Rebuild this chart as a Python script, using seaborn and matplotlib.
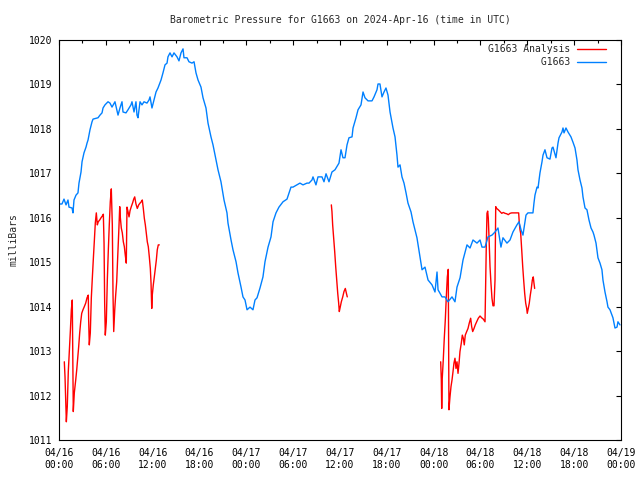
import pandas as pd
import matplotlib
matplotlib.use("Agg")
import matplotlib.pyplot as plt
import matplotlib.dates as mdates
import seaborn as sns

# hours after 2024-04-16 00:00 UTC, pressure in mb
start = pd.Timestamp("2024-04-16 00:00")

blue_hours = [0.00, 0.38, 0.64, 0.90, 1.15, 1.28, 1.67, 1.79, 1.92, 2.18,
              2.43, 2.56, 2.82, 2.95, 3.20, 3.46, 3.59, 3.72, 3.97, 4.23,
              4.36, 5.00, 5.25, 5.51, 5.64, 5.89, 6.28, 6.53, 6.79, 7.17,
              7.56, 7.81, 8.07, 8.20, 8.58, 8.84, 9.22, 9.35, 9.61, 9.86,
              9.99, 10.12, 10.38, 10.63, 10.89, 11.27, 11.53, 11.66, 11.91, 12.17,
              12.43, 12.68, 13.07, 13.32, 13.58, 13.84, 13.96, 14.22, 14.48, 14.73,
              15.12, 15.37, 15.63, 15.89, 16.01, 16.40, 16.65, 17.04, 17.30, 17.55,
              17.81, 18.19, 18.45, 18.83, 19.09, 19.47, 19.73, 20.11, 20.37, 20.75,
              21.14, 21.52, 21.65, 22.04, 22.29, 22.68, 22.93, 23.32, 23.57, 23.83,
              24.09, 24.47, 24.85, 25.11, 25.37, 25.75, 26.13, 26.39, 26.78, 27.16,
              27.42, 27.80, 28.18, 28.70, 29.21, 29.47, 29.72, 29.98, 30.49, 30.87,
              31.26, 31.77, 32.03, 32.41, 32.54, 32.92, 33.18, 33.69, 33.95, 34.21,
              34.59, 34.97, 35.36, 35.74, 35.87, 36.13, 36.38, 36.64, 36.90, 37.15,
              37.54, 37.67, 38.05, 38.31, 38.69, 38.95, 39.20, 39.59, 40.10, 40.36,
              40.74, 40.87, 41.12, 41.38, 41.64, 41.89, 42.15, 42.41, 42.79, 43.05,
              43.30, 43.43, 43.69, 43.94, 44.20, 44.46, 44.71, 45.10, 45.35, 45.61,
              45.86, 46.25, 46.51, 46.89, 47.28, 47.79, 48.17, 48.43, 48.56, 49.07,
              49.45, 49.84, 50.35, 50.73, 50.99, 51.38, 51.76, 52.27, 52.66, 53.04,
              53.55, 53.94, 54.19, 54.58, 54.96, 55.47, 55.86, 56.24, 56.62, 56.88,
              57.39, 57.78, 58.16, 58.67, 58.93, 59.19, 59.44, 59.83, 60.08, 60.72,
              60.85, 60.98, 61.24, 61.37, 61.62, 61.88, 62.01, 62.26, 62.52, 62.90,
              63.16, 63.29, 63.67, 63.93, 64.06, 64.44, 64.57, 64.70, 64.95, 65.21,
              65.59, 65.85, 66.11, 66.36, 66.49, 66.75, 67.00, 67.13, 67.39, 67.64,
              67.90, 68.16, 68.41, 68.54, 68.80, 69.05, 69.31, 69.56, 69.69, 69.95,
              70.21, 70.33, 70.59, 70.85, 70.97, 71.23, 71.49, 71.61, 71.87]
blue_mb = [1016.31, 1016.31, 1016.42, 1016.29, 1016.40, 1016.24, 1016.22, 1016.11, 1016.40, 1016.51,
           1016.56, 1016.78, 1017.03, 1017.26, 1017.46, 1017.59, 1017.68, 1017.75, 1017.98, 1018.16,
           1018.22, 1018.25, 1018.31, 1018.36, 1018.47, 1018.54, 1018.61, 1018.58, 1018.49, 1018.61,
           1018.31, 1018.47, 1018.61, 1018.38, 1018.36, 1018.43, 1018.54, 1018.61, 1018.38, 1018.61,
           1018.31, 1018.25, 1018.61, 1018.54, 1018.61, 1018.58, 1018.65, 1018.72, 1018.47, 1018.65,
           1018.83, 1018.92, 1019.10, 1019.26, 1019.44, 1019.48, 1019.62, 1019.71, 1019.62, 1019.71,
           1019.62, 1019.53, 1019.71, 1019.80, 1019.60, 1019.60, 1019.51, 1019.48, 1019.51, 1019.26,
           1019.10, 1018.94, 1018.70, 1018.47, 1018.13, 1017.82, 1017.64, 1017.30, 1017.08, 1016.81,
           1016.40, 1016.11, 1015.88, 1015.50, 1015.28, 1015.01, 1014.76, 1014.44, 1014.22, 1014.15,
           1013.93, 1013.99, 1013.93, 1014.15, 1014.20, 1014.42, 1014.67, 1015.01, 1015.34, 1015.57,
           1015.91, 1016.11, 1016.24, 1016.36, 1016.42, 1016.56, 1016.69, 1016.69, 1016.74, 1016.78,
           1016.74, 1016.78, 1016.78, 1016.85, 1016.92, 1016.74, 1016.92, 1016.92, 1016.81, 1016.99,
           1016.81, 1017.03, 1017.08, 1017.19, 1017.23, 1017.53, 1017.35, 1017.35, 1017.64, 1017.80,
           1017.82, 1018.02, 1018.25, 1018.43, 1018.54, 1018.83, 1018.70, 1018.63, 1018.63, 1018.72,
           1018.88, 1019.01, 1019.01, 1018.72, 1018.83, 1018.92, 1018.76, 1018.38, 1018.02, 1017.82,
           1017.41, 1017.14, 1017.19, 1016.92, 1016.78, 1016.56, 1016.33, 1016.13, 1015.91, 1015.73,
           1015.55, 1015.12, 1014.83, 1014.89, 1014.60, 1014.49, 1014.33, 1014.78, 1014.38, 1014.22,
           1014.22, 1014.11, 1014.22, 1014.11, 1014.44, 1014.65, 1015.05, 1015.39, 1015.32, 1015.50,
           1015.43, 1015.50, 1015.34, 1015.34, 1015.57, 1015.61, 1015.68, 1015.77, 1015.34, 1015.55,
           1015.43, 1015.50, 1015.68, 1015.84, 1015.91, 1015.73, 1015.61, 1016.06, 1016.11, 1016.11,
           1016.33, 1016.51, 1016.69, 1016.67, 1017.01, 1017.26, 1017.41, 1017.53, 1017.35, 1017.32,
           1017.57, 1017.59, 1017.35, 1017.68, 1017.80, 1017.93, 1018.02, 1017.91, 1018.02, 1017.93,
           1017.82, 1017.70, 1017.57, 1017.30, 1017.08, 1016.85, 1016.67, 1016.47, 1016.22, 1016.18,
           1015.95, 1015.77, 1015.68, 1015.61, 1015.43, 1015.10, 1014.98, 1014.83, 1014.60, 1014.33,
           1014.11, 1013.99, 1013.93, 1013.81, 1013.75, 1013.52, 1013.54, 1013.66, 1013.59]

# analysis series comes in three separate runs
ana1_hours = [0.68, 0.77, 0.94, 1.06, 1.19, 1.32, 1.45, 1.58, 1.70, 1.83,
              1.96, 2.14, 2.27, 2.40, 2.52, 2.65, 2.78, 2.91, 3.07, 3.24,
              3.42, 3.59, 3.75, 3.80, 3.88, 4.01, 4.14, 4.27, 4.39, 4.52,
              4.65, 4.78, 4.91, 5.03, 5.21, 5.38, 5.55, 5.68, 5.77, 5.85,
              5.93, 6.06, 6.19, 6.32, 6.44, 6.57, 6.70, 6.83, 6.92, 7.01,
              7.14, 7.26, 7.39, 7.52, 7.65, 7.78, 7.85, 7.98, 8.11, 8.24,
              8.37, 8.49, 8.62, 8.71, 8.84, 8.97, 9.10, 9.26, 9.44, 9.57,
              9.70, 9.86, 10.03, 10.21, 10.38, 10.54, 10.67, 10.80, 10.93, 11.06,
              11.18, 11.31, 11.44, 11.57, 11.70, 11.79, 11.88, 11.95, 12.08, 12.21,
              12.34, 12.47, 12.59, 12.72, 12.85]
ana1_mb = [1012.76, 1012.42, 1011.41, 1011.75, 1012.54, 1012.99, 1013.44, 1013.93, 1014.15, 1011.64,
           1012.06, 1012.35, 1012.58, 1012.85, 1013.10, 1013.41, 1013.66, 1013.85, 1013.93, 1014.00,
           1014.08, 1014.20, 1014.26, 1013.70, 1013.14, 1013.41, 1014.20, 1014.65, 1015.05, 1015.46,
           1015.88, 1016.11, 1015.84, 1015.91, 1015.95, 1016.00, 1016.04, 1016.08, 1015.43, 1014.08,
           1013.36, 1013.66, 1014.60, 1015.28, 1015.84, 1016.36, 1016.65, 1015.84, 1014.26, 1013.44,
           1013.93, 1014.26, 1014.56, 1015.12, 1015.66, 1016.25, 1016.02, 1015.77, 1015.66, 1015.46,
           1015.35, 1015.16, 1014.98, 1016.24, 1016.14, 1016.02, 1016.16, 1016.25, 1016.34, 1016.42,
           1016.47, 1016.31, 1016.21, 1016.29, 1016.33, 1016.36, 1016.40, 1016.21, 1015.99, 1015.84,
           1015.66, 1015.46, 1015.35, 1015.12, 1014.86, 1014.53, 1013.96, 1014.26, 1014.49, 1014.67,
           1014.86, 1015.05, 1015.28, 1015.39, 1015.39]

ana2_hours = [34.89, 34.97, 35.06, 35.19, 35.32, 35.45, 35.58, 35.71, 35.83, 35.91,
              36.04, 36.17, 36.35, 36.51, 36.68, 36.81, 36.93]
ana2_mb = [1016.29, 1016.14, 1015.84, 1015.54, 1015.24, 1014.90, 1014.60, 1014.30, 1014.08, 1013.89,
           1014.00, 1014.11, 1014.22, 1014.34, 1014.41, 1014.31, 1014.22]

ana3_hours = [48.90, 48.98, 49.03, 49.10, 49.23, 49.36, 49.49, 49.62, 49.75, 49.87,
              49.96, 50.09, 50.22, 50.35, 50.48, 50.60, 50.73, 50.86, 50.99, 51.12,
              51.25, 51.37, 51.54, 51.67, 51.80, 51.92, 52.05, 52.23, 52.40, 52.56,
              52.74, 52.87, 53.00, 53.17, 53.33, 53.51, 53.72, 53.94, 54.15, 54.36,
              54.58, 54.67, 54.74, 54.83, 54.92, 55.00, 55.09, 55.22, 55.34, 55.47,
              55.60, 55.73, 55.86, 55.95, 56.07, 56.28, 56.50, 56.72, 56.92, 57.14,
              57.36, 57.56, 57.78, 58.00, 58.20, 58.42, 58.64, 58.89, 58.97, 59.06,
              59.15, 59.28, 59.41, 59.53, 59.66, 59.79, 59.92, 59.99, 60.12, 60.25,
              60.38, 60.51, 60.64, 60.76, 60.85, 60.94]
ana3_mb = [1012.76, 1012.35, 1011.71, 1012.39, 1012.80, 1013.29, 1013.70, 1014.22, 1014.67, 1014.84,
           1011.68, 1011.97, 1012.20, 1012.35, 1012.54, 1012.73, 1012.84, 1012.61, 1012.76, 1012.50,
           1012.73, 1012.99, 1013.18, 1013.36, 1013.29, 1013.14, 1013.36, 1013.44, 1013.51, 1013.63,
           1013.74, 1013.55, 1013.44, 1013.51, 1013.59, 1013.66, 1013.74, 1013.79, 1013.75, 1013.72,
           1013.66, 1014.60, 1015.35, 1016.10, 1016.15, 1015.99, 1015.57, 1014.90, 1014.53, 1014.19,
           1014.02, 1014.02, 1014.60, 1016.25, 1016.21, 1016.18, 1016.14, 1016.10, 1016.12, 1016.10,
           1016.09, 1016.07, 1016.10, 1016.11, 1016.11, 1016.11, 1016.11, 1016.11, 1015.88, 1015.73,
           1015.65, 1015.28, 1014.90, 1014.60, 1014.30, 1014.08, 1013.96, 1013.85, 1013.96, 1014.08,
           1014.26, 1014.41, 1014.60, 1014.67, 1014.53, 1014.41]

y_ticks = [1011, 1012, 1013, 1014, 1015, 1016, 1017, 1018, 1019, 1020]

blue_df = pd.DataFrame({"time": start + pd.to_timedelta(blue_hours, unit="h"),
                        "mb": blue_mb})
parts = []
for i, (h, p) in enumerate([(ana1_hours, ana1_mb), (ana2_hours, ana2_mb),
                            (ana3_hours, ana3_mb)]):
    parts.append(pd.DataFrame({"time": start + pd.to_timedelta(h, unit="h"),
                               "mb": p, "seg": i}))
ana_df = pd.concat(parts, ignore_index=True)

sns.set_style("white")
plt.rcParams["font.family"] = ["DejaVu Sans Mono"]
plt.rcParams["font.size"] = 7

fig, ax = plt.subplots(figsize=(6.4, 4.8), dpi=100)
fig.subplots_adjust(left=0.0922, right=0.9703, bottom=0.0833, top=0.9167)

sns.lineplot(data=ana_df, x="time", y="mb", units="seg", estimator=None,
             color="#ff0000", lw=1.0, label="G1663 Analysis", ax=ax)
sns.lineplot(data=blue_df, x="time", y="mb", color="#0080ff", lw=1.0,
             label="         G1663", ax=ax)

ax.set_xlim(start, start + pd.Timedelta(hours=72))
ax.set_ylim(1011, 1020)
ax.set_yticks(y_ticks)
ax.xaxis.set_major_locator(mdates.HourLocator(byhour=[0, 6, 12, 18]))
ax.xaxis.set_minor_locator(mdates.HourLocator(byhour=[3, 9, 15, 21]))
ax.xaxis.set_major_formatter(mdates.DateFormatter("%m/%d\n%H:%M"))

ax.tick_params(which="both", direction="in", top=True, right=True,
               colors="black", labelsize=7, width=0.8)
ax.tick_params(which="major", length=3.6)
ax.tick_params(which="minor", length=1.8)
ax.tick_params(axis="x", pad=6)
ax.tick_params(axis="y", pad=5)
for s in ax.spines.values():
    s.set_color("black")
    s.set_linewidth(0.8)

ax.set_xlabel("")
ax.set_ylabel("milliBars", fontsize=7, labelpad=7)
ax.set_title("Barometric Pressure for G1663 on 2024-Apr-16 (time in UTC)",
             fontsize=7, pad=12)

# drop repeated legend entries from the split analysis runs
handles, labels = ax.get_legend_handles_labels()
uniq = dict(zip(labels, handles))
ax.legend(list(uniq.values()), list(uniq.keys()), loc="upper right",
          bbox_to_anchor=(0.985, 1.006),
          frameon=False, markerfirst=False, handlelength=3.0,
          handletextpad=0.7, labelspacing=0.3, borderaxespad=0.3,
          fontsize=7)

fig.savefig("out.png", dpi=100)
